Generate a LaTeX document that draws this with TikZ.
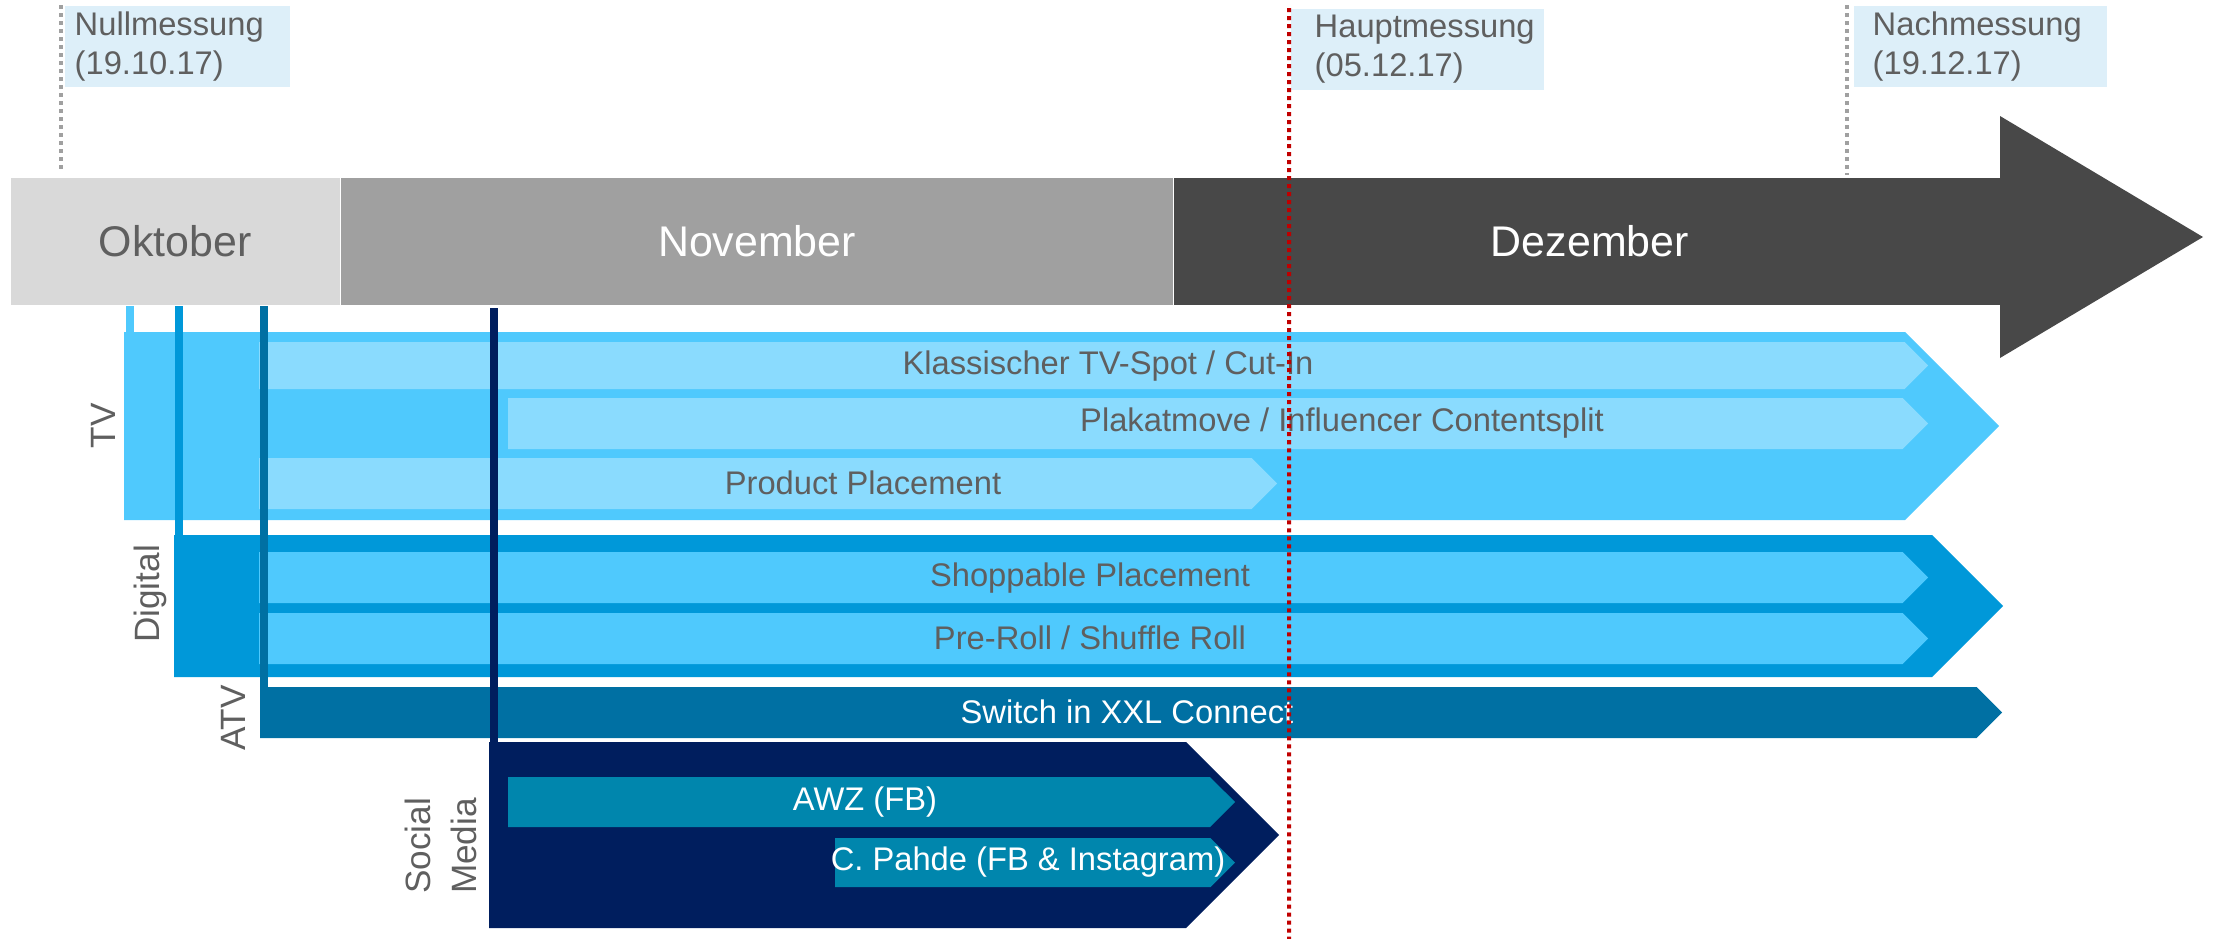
\documentclass[tikz,border=0pt]{standalone}
\usepackage{fontspec}
\setmainfont{Liberation Sans}
\usetikzlibrary{positioning}

\definecolor{octgray}{HTML}{D9D9D9}
\definecolor{novgray}{HTML}{A0A0A0}
\definecolor{decgray}{HTML}{484848}
\definecolor{txtgray}{HTML}{5F5F5F}
\definecolor{labelbg}{HTML}{DDEFF9}
\definecolor{tvblue}{HTML}{4FC9FD}
\definecolor{tvlight}{HTML}{8ADBFE}
\definecolor{digblue}{HTML}{0098D9}
\definecolor{atvblue}{HTML}{0070A3}
\definecolor{smnavy}{HTML}{001E5E}
\definecolor{smteal}{HTML}{0086AD}
\definecolor{markred}{HTML}{C00000}
\definecolor{markgray}{HTML}{A0A0A0}

\newcommand{\chevbar}[5]{%
  \pgfmathsetmacro{\halfh}{(#5-#3)/2}
  \fill[#1] (#2,#3) -- ({#4-\halfh},#3) -- (#4,{#3+\halfh}) -- ({#4-\halfh},#5) -- (#2,#5) -- cycle;}

\begin{document}
\begin{tikzpicture}[x=0.01cm,y=-0.01cm,
  month/.style={minimum height=12.7mm, minimum width=83.1mm, inner sep=0pt, font=\fontsize{12.2}{14}\selectfont},
  mlabel/.style={fill=labelbg, text=txtgray, align=left, anchor=north west, minimum height=8.1mm, inner ysep=0pt, font=\fontsize{9.3}{11}\selectfont},
  bartext/.style={inner sep=0pt, font=\fontsize{9.3}{11}\selectfont},
  sidelabel/.style={rotate=90, text=txtgray, align=center, inner sep=0pt, font=\fontsize{10}{13}\selectfont},
  stem/.style={line width=0.8mm},
  mline/.style={line width=0.4mm, dash pattern=on 0.4mm off 0.4mm}]
\useasboundingbox (0,0) rectangle (2217,939);

\node[month, fill=octgray, text=txtgray, minimum width=32.9mm, anchor=north west] (oct) at (10,177) {Oktober};
\node[month, fill=novgray, text=white, right=0pt of oct] (nov) {November};
\node[month, fill=decgray, text=white, right=0pt of nov] (dec) {Dezember};
\fill[decgray] (2000,116) -- (2203,237) -- (2000,358) -- cycle;

\node[mlabel, text width=20.5mm, inner xsep=1mm] (null) at (64,5) {Nullmessung\\(19.10.17)};
\node[mlabel, text width=20.5mm, inner xsep=2.4mm] (haupt) at (1290,8) {Hauptmessung\\(05.12.17)};
\node[mlabel, text width=21.5mm, inner xsep=1.9mm] (nach) at (1853,5) {Nachmessung\\(19.12.17)};

\chevbar{tvblue}{124}{332}{1999}{520}
\chevbar{digblue}{174}{535}{2003}{677}
\chevbar{atvblue}{260}{687}{2002}{738}
\chevbar{smnavy}{489}{742}{1279}{928}

\chevbar{tvlight}{259}{342}{1928}{389}
\chevbar{tvlight}{508}{398}{1928}{449}
\chevbar{tvlight}{259}{458}{1277}{509}
\chevbar{tvblue}{259}{552}{1928}{603}
\chevbar{tvblue}{259}{613}{1928}{664}
\chevbar{smteal}{508}{777}{1235}{827}
\chevbar{smteal}{835}{838}{1235}{887}

\draw[stem,tvblue] (130,306) -- (130,333);
\draw[stem,digblue] (179,306) -- (179,536);
\draw[stem,atvblue] (264,306) -- (264,688);
\draw[stem,smnavy] (494,308) -- (494,743);

\node[bartext, text=txtgray] (spot) at (1108,366) {Klassischer TV-Spot / Cut-In};
\node[bartext, text=txtgray] (plakat) at (1342,423) {Plakatmove / Influencer Contentsplit};
\node[bartext, text=txtgray] (product) at (863,483) {Product Placement};
\node[bartext, text=txtgray] (shop) at (1090,578) {Shoppable Placement};
\node[bartext, text=txtgray] (preroll) at (1090,638) {Pre-Roll / Shuffle Roll};
\node[bartext, text=white] (switch) at (1127,712) {Switch in XXL Connect};
\node[bartext, text=white] (awz) at (865,802) {AWZ (FB)};
\node[bartext, text=white] (pahde) at (1028,862) {C. Pahde (FB \& Instagram)};

\node[sidelabel] (tv) at (103,426) {TV};
\node[sidelabel] (digital) at (150,594) {Digital};
\node[sidelabel] (atv) at (233,718) {ATV};
\node[sidelabel] (social) at (441,846) {Social\\Media};

\draw[mline, markgray] ([xshift=-0.3mm]null.north west) -- ++(0,165);
\draw[mline, markgray] ([xshift=-0.6mm]nach.north west) -- ++(0,170);
\draw[mline, markred] ([xshift=-0.1mm]haupt.north west) -- (1289,939);
\end{tikzpicture}
\end{document}
